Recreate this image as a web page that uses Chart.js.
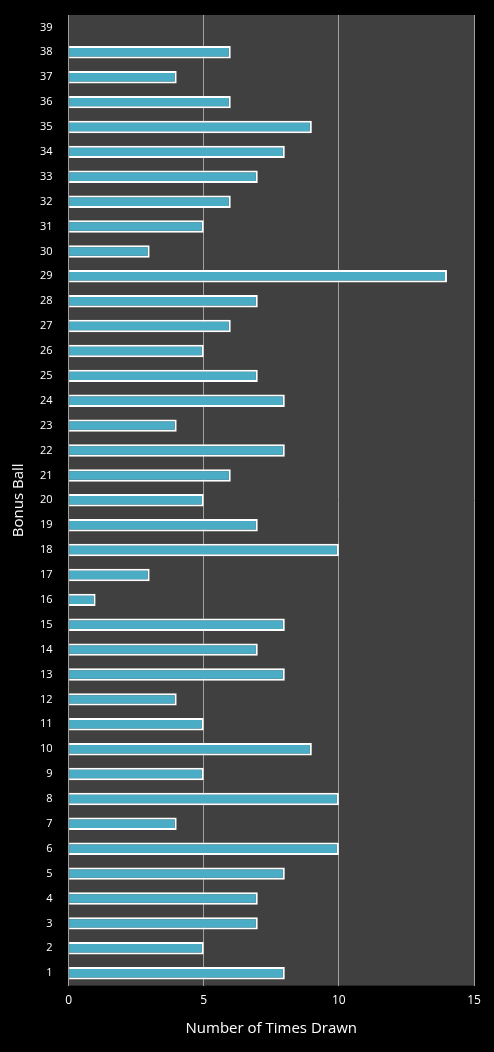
<!DOCTYPE html>
<html>
<head>
<meta charset="utf-8">
<script src="https://cdn.jsdelivr.net/npm/chart.js@4"></script>
<style>
  html, body { margin: 0; padding: 0; background: #000; }
  #wrap { width: 494px; height: 1052px; }
</style>
</head>
<body>
<div id="wrap"><canvas id="chart"></canvas></div>
<script>
// --- data ---
const balls = Array.from({ length: 39 }, (_, i) => String(i + 1));
const timesDrawn = [8, 5, 7, 7, 8, 10, 4, 10, 5, 9, 5, 4, 8, 7, 8, 1, 3, 10, 7, 5,
                    6, 8, 4, 8, 7, 5, 6, 7, 14, 3, 5, 6, 7, 8, 9, 6, 4, 6, 0];
const xTicks = [0, 5, 10, 15];

// grey plot area behind the bars
const plotBg = {
    id: 'plotBg',
    beforeDraw(chart) {
        const { ctx, chartArea: a } = chart;
        ctx.save();
        ctx.fillStyle = '#404040';
        ctx.fillRect(a.left, a.top, a.right - a.left, a.bottom - a.top);
        ctx.restore();
    }
};

new Chart(document.getElementById('chart'), {
    type: 'bar',
    data: {
        labels: balls,
        datasets: [{
            data: timesDrawn,
            backgroundColor: '#4bacc6',
            borderColor: '#ffffff',
            borderWidth: 2,
            barPercentage: 0.5,
            categoryPercentage: 1
        }]
    },
    options: {
        indexAxis: 'y',
        responsive: true,
        maintainAspectRatio: false,
        animation: false,
        layout: { padding: { top: 15, right: 20, left: 6, bottom: 10 } },
        plugins: { legend: { display: false }, tooltip: { enabled: false } },
        scales: {
            x: {
                min: 0, max: 15,
                afterBuildTicks: s => { s.ticks = xTicks.map(v => ({ value: v })); },
                grid: { color: '#a0a0a0', lineWidth: 1, drawTicks: false },
                border: { display: false },
                ticks: { color: '#fff', font: { family: 'Open Sans', size: 12 }, padding: 8 },
                title: { display: true, text: 'Number of Times Drawn', color: '#fff',
                         font: { family: 'Open Sans', size: 15 } }
            },
            y: {
                reverse: true,
                grid: { display: false },
                border: { display: false },
                ticks: { color: '#fff', font: { family: 'Open Sans', size: 11 }, autoSkip: false, padding: 8 },
                title: { display: true, text: 'Bonus Ball', color: '#fff',
                         font: { family: 'Open Sans', size: 15 } }
            }
        }
    },
    plugins: [plotBg]
});
</script>
</body>
</html>
